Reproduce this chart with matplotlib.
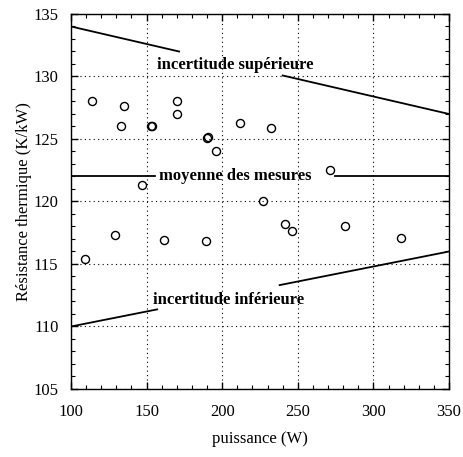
import numpy as np
import matplotlib
matplotlib.use("Agg")
import matplotlib.pyplot as plt
import matplotlib.ticker as mticker

# measured points
puissance = [109, 114, 129, 133, 135, 147, 153.2, 153.6, 161.5, 170, 170,
             189, 190.1, 190.4, 196, 212, 227, 232, 241.5, 246, 271, 281, 318]
resistance = [115.4, 128.0, 117.3, 126.0, 127.6, 121.3, 126.0, 126.05, 116.9, 128.0, 127.0,
              116.8, 125.1, 125.15, 124.0, 126.3, 120.0, 125.9, 118.2, 117.6, 122.5, 118.0, 117.1]

# bounds (end points) and mean
upper_x = [100, 350]
upper_y = [134.0, 127.0]
lower_x = [100, 350]
lower_y = [110.0, 116.0]
moyenne = 122.0

# where the lines are cut for their labels
upper_gap = (171.5, 240.0)
mean_gap = (155.5, 274.5)
lower_gap = (157.0, 238.0)

plt.rcParams["font.family"] = ["Liberation Serif", "DejaVu Serif"]
plt.rcParams["font.size"] = 12

fig = plt.figure(figsize=(4.63, 4.57), dpi=100)
ax = fig.add_axes([0.1533, 0.1488, 0.8165, 0.8206])


def draw_cut_line(xs, ys, gap):
    x_left = np.array([xs[0], gap[0]])
    x_right = np.array([gap[1], xs[1]])
    ax.plot(x_left, np.interp(x_left, xs, ys), color="black", lw=1.3)
    ax.plot(x_right, np.interp(x_right, xs, ys), color="black", lw=1.3)


draw_cut_line(upper_x, upper_y, upper_gap)
draw_cut_line(lower_x, lower_y, lower_gap)
draw_cut_line([100, 350], [moyenne, moyenne], mean_gap)

ax.plot(puissance, resistance, linestyle="none", marker="o", ms=5.8,
        mfc="none", mec="black", mew=1.0)

ax.text(208.5, 130.9, "incertitude supérieure", ha="center", va="center",
        fontsize=12, fontweight="bold")
ax.text(208.5, 122.05, "moyenne des mesures", ha="center", va="center",
        fontsize=12, fontweight="bold")
ax.text(204, 112.1, "incertitude inférieure", ha="center", va="center",
        fontsize=12, fontweight="bold")

ax.set_xlim(100, 350)
ax.set_ylim(105, 135)
ax.xaxis.set_major_locator(mticker.MultipleLocator(50))
ax.xaxis.set_minor_locator(mticker.MultipleLocator(10))
ax.yaxis.set_major_locator(mticker.MultipleLocator(5))
ax.yaxis.set_minor_locator(mticker.MultipleLocator(1))
ax.tick_params(which="both", direction="in", top=True, right=True, colors="black")
ax.tick_params(which="major", length=5, width=1, labelsize=12)
ax.tick_params(axis="x", which="major", pad=11)
ax.tick_params(axis="y", which="major", pad=9)
ax.tick_params(which="minor", length=3, width=0.8)
ax.grid(True, which="major", linestyle=(0, (1, 3)), color="black", lw=0.8)
for s in ax.spines.values():
    s.set_linewidth(1.0)

ax.set_xlabel("puissance (W)", fontsize=12, labelpad=8)
ax.set_ylabel("Résistance thermique (K/kW)", fontsize=12, labelpad=1)

fig.savefig("out.png", dpi=100)
